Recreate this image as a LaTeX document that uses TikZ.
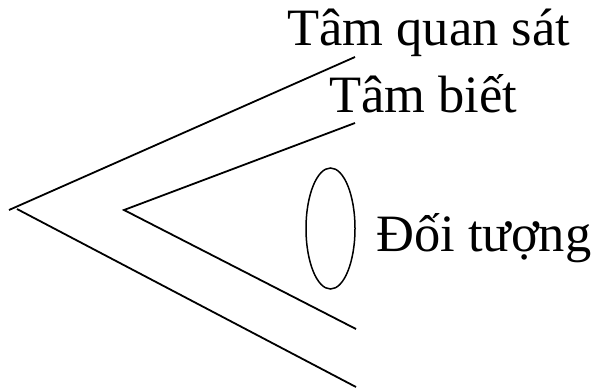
\documentclass[tikz,border=0pt]{standalone}
\usepackage{fontspec}
\setmainfont{Liberation Serif}
\usetikzlibrary{shapes.geometric}
\begin{document}
\begin{tikzpicture}[x=1pt,y=-1pt,
  ln/.style={line width=1.8pt},
  lbl/.style={anchor=base west,inner sep=0pt,font=\fontsize{52.5}{52.5}\selectfont}]
\useasboundingbox (0,0) rectangle (596,391);
\coordinate (oa) at (9,210);
\coordinate (ob) at (17,209);
\coordinate (ou) at (355,57);
\coordinate (ol) at (356,387);
\coordinate (ia) at (124,210);
\coordinate (iu) at (355,123);
\coordinate (il) at (356,329);
\draw[ln] (oa) -- (ou);
\draw[ln] (ob) -- (ol);
\draw[ln] (iu) -- (ia) -- (il);
\node[draw,ellipse,line width=1.5pt,minimum width=49pt,minimum height=121pt,inner sep=0pt] (obj) at (330.5,228.5) {};
\node[lbl] (t1) at (287,45) {Tâm quan sát};
\node[lbl] (t2) at (329,112) {Tâm biết};
\node[lbl] (t3) at (376,251) {Đối tượng};
\end{tikzpicture}
\end{document}
